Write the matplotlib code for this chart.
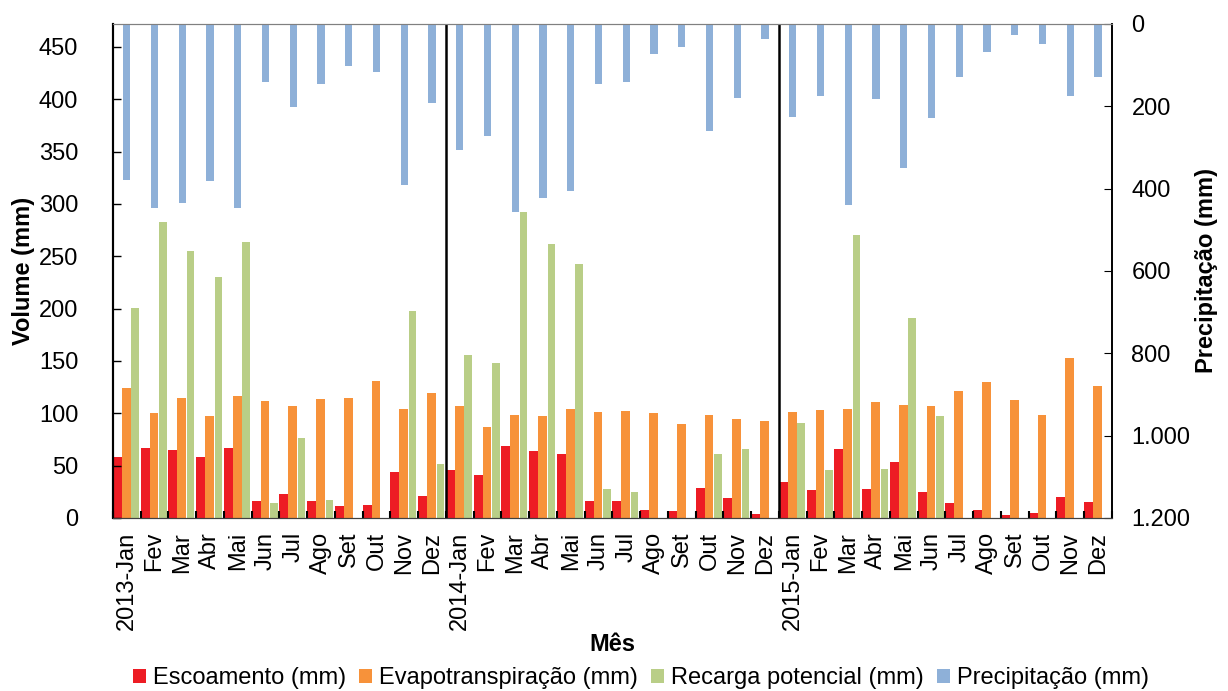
import matplotlib.pyplot as plt
import numpy as np

plt.rcParams['font.family'] = ['Liberation Sans', 'DejaVu Sans']

# monthly data 2013-2015 (mm)
months = ['Jan', 'Fev', 'Mar', 'Abr', 'Mai', 'Jun', 'Jul', 'Ago', 'Set', 'Out', 'Nov', 'Dez']
years = ['2013', '2014', '2015']
labels = [(y + '-' + m if m == 'Jan' else m) for y in years for m in months]

escoamento = [58, 67, 65, 58, 67, 16, 23, 16, 11, 12, 44, 21,
              46, 41, 69, 64, 61, 16, 16, 8, 7, 29, 19, 4,
              34, 27, 66, 28, 53, 25, 14, 8, 3, 5, 20, 15]
evapo = [124, 100, 115, 97, 117, 112, 107, 114, 115, 131, 104, 119,
         107, 87, 98, 97, 104, 101, 102, 100, 90, 98, 95, 93,
         101, 103, 104, 111, 108, 107, 121, 130, 113, 98, 153, 126]
recarga = [201, 283, 255, 230, 264, 14, 76, 17, 0, 0, 198, 52,
           156, 148, 292, 262, 243, 28, 25, 0, 0, 61, 66, 0,
           91, 46, 270, 47, 191, 97, 0, 0, 0, 0, 0, 0]
precip = [379, 446, 434, 382, 446, 140, 203, 145, 103, 116, 391, 191,
          306, 273, 458, 423, 407, 145, 142, 73, 57, 260, 179, 36,
          225, 176, 440, 183, 349, 228, 128, 69, 27, 48, 176, 128]

c_red = '#ED1C24'
c_orange = '#F7923A'
c_green = '#B9CE87'
c_blue = '#8EB0D8'

fs = 17
x = np.arange(len(labels))
w = 0.32

fig = plt.figure(figsize=(12.28, 6.91), dpi=100)
ax = fig.add_axes([0.092, 0.2504, 0.8135, 0.715])

ax.bar(x - 0.5 + w / 2, escoamento, w, color=c_red, label='Escoamento (mm)')
ax.bar(x - 0.5 + 1.5 * w, evapo, w, color=c_orange, label='Evapotranspiração (mm)')
ax.bar(x - 0.5 + 2.5 * w, recarga, w * 0.85, color=c_green, label='Recarga potencial (mm)')

ax.set_xlim(-0.5, len(labels) - 0.5)
ax.set_ylim(0, 472)
ax.set_yticks(np.arange(0, 451, 50))
ax.set_xticks(x)
ax.set_xticklabels(labels, rotation=90, fontsize=fs)
ax.set_xticks(np.arange(-0.5, len(labels), 1), minor=True)
ax.tick_params(axis='x', which='major', length=0, pad=10)
ax.tick_params(axis='x', which='minor', direction='in', length=5, width=1.5)
ax.tick_params(axis='y', direction='in', length=6, labelsize=fs, width=1, pad=25)

for b in [11.5, 23.5]:
    ax.axvline(b, color='black', lw=1.8)

ax2 = ax.twinx()
ax2.bar(x, precip, 0.26, color=c_blue, label='Precipitação (mm)')
ax2.set_ylim(1200, 0)
ax2.set_yticks(np.arange(0, 1201, 200))
ax2.set_yticklabels(['0', '200', '400', '600', '800', '1.000', '1.200'])
ax2.tick_params(axis='y', direction='in', length=6, labelsize=fs, pad=14)

for a in (ax, ax2):
    a.spines['left'].set_linewidth(1.5)
    a.spines['right'].set_linewidth(1.2)
    a.spines['top'].set_color('#808080')
    a.spines['bottom'].set_color('#404040')

ax.set_ylabel('Volume (mm)', fontsize=fs, fontweight='bold', labelpad=3)
ax2.set_ylabel('Precipitação (mm)', fontsize=fs, fontweight='bold', labelpad=3)
ax.set_xlabel('Mês', fontsize=fs, fontweight='bold', labelpad=2)

h1, l1 = ax.get_legend_handles_labels()
h2, l2 = ax2.get_legend_handles_labels()
fig.legend(h1 + h2, l1 + l2, loc='lower center', ncol=4, frameon=False,
           fontsize=fs, handlelength=0.55, handleheight=0.55,
           handletextpad=0.3, columnspacing=0.55, bbox_to_anchor=(0.522, -0.028))

fig.savefig('out.png', dpi=100)
